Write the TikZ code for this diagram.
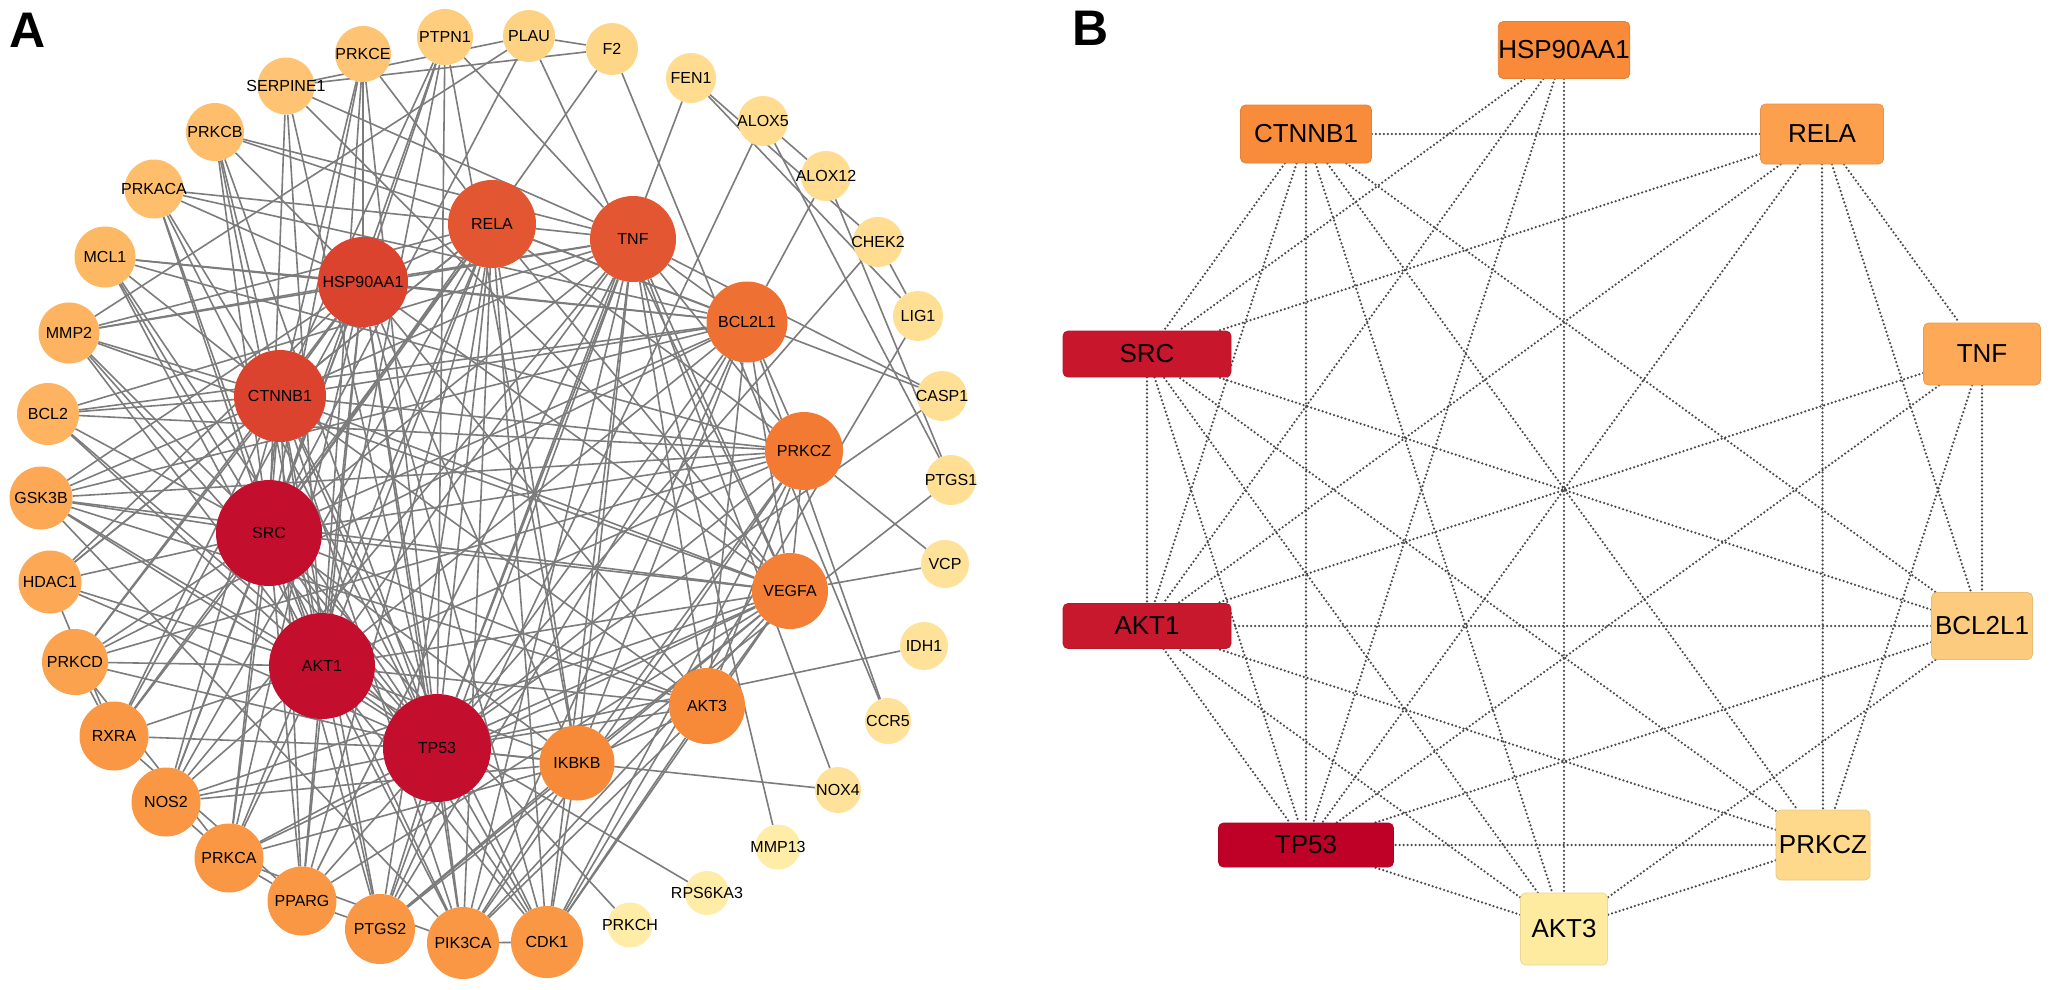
\documentclass[tikz,border=0pt]{standalone}
\usepackage{fontspec}
\setmainfont{Liberation Sans}
\pgfdeclarelayer{bg}
\pgfdeclarelayer{paper}
\pgfsetlayers{paper,bg,main}
% panel A colours
\definecolor{cHub}{HTML}{C30E2E}
\definecolor{cHC}{HTML}{DB432F}
\definecolor{cRT}{HTML}{E25631}
\definecolor{cBL}{HTML}{EE7133}
\definecolor{cPZ}{HTML}{F27A33}
\definecolor{cVG}{HTML}{F47F36}
\definecolor{cAK}{HTML}{F78A38}
\definecolor{cOa}{HTML}{F99744}
\definecolor{cOb}{HTML}{FBA24F}
\definecolor{cOc}{HTML}{FCA854}
\definecolor{cOd}{HTML}{FDB35F}
\definecolor{cOe}{HTML}{FDB864}
\definecolor{cOf}{HTML}{FEBE6B}
\definecolor{cOg}{HTML}{FEC473}
\definecolor{cYa}{HTML}{FECD7E}
\definecolor{cYb}{HTML}{FED283}
\definecolor{cYc}{HTML}{FED688}
\definecolor{cYd}{HTML}{FFDC8F}
\definecolor{cYe}{HTML}{FFDF94}
\definecolor{cYf}{HTML}{FFE29A}
\definecolor{cYg}{HTML}{FFECA6}
\definecolor{edgeA}{HTML}{7C7C7C}
% panel B colours
\definecolor{bcH}{HTML}{F98A39}
\definecolor{bcC}{HTML}{F98C3B}
\definecolor{bcR}{HTML}{FCA04E}
\definecolor{bcT}{HTML}{FDA957}
\definecolor{bcB}{HTML}{FDCB7D}
\definecolor{bcP}{HTML}{FED98C}
\definecolor{bcAc}{HTML}{FFEBA0}
\definecolor{bcS}{HTML}{C8172D}
\definecolor{bcA}{HTML}{C8182D}
\definecolor{bcTP}{HTML}{BF0027}
\definecolor{edgeB}{HTML}{4A4A4A}
\tikzset{
  gn/.style={circle, inner sep=0pt, draw=none},
  glab/.style={font=\fontsize{16}{18}\selectfont, text=black, inner sep=0pt},
  aedge/.style={draw=edgeA, line width=1.6pt},
  bbox/.style={rectangle, rounded corners=5pt, inner sep=0pt, line width=0.8pt,
               font=\fontsize{26}{30}\selectfont, text=black},
  bedge/.style={draw=edgeB, line width=2.5pt, line cap=round, dash pattern=on 0pt off 4pt},
  panlab/.style={font=\fontsize{50}{50}\selectfont\bfseries, inner sep=0pt, anchor=base west}
}
\newcommand{\gnode}[6]{% name, x, y, diameter, colour, label
  \node[gn, minimum size=#4pt, fill=#5, label={[glab]center:#6}] (#1) at (#2,#3) {};}
\begin{document}
\begin{tikzpicture}[x=1pt,y=-1pt]
\useasboundingbox (0,0) rectangle (2050,989);
\begin{pgfonlayer}{paper}
\fill[white] (0,0) rectangle (2050,989);
\end{pgfonlayer}

\node[panlab] (labA) at (9,47) {A};
\node[panlab] (labB) at (1072,45) {B};

% ---------------- Panel A nodes ----------------
% inner
\gnode{rela}{492}{224}{88}{cRT}{RELA}
\gnode{tnf}{633}{239}{86}{cRT}{TNF}
\gnode{hsp}{363}{282}{90}{cHC}{HSP90AA1}
\gnode{ct}{280}{396}{92}{cHC}{CTNNB1}
\gnode{src}{269}{533}{106}{cHub}{SRC}
\gnode{ak1}{322}{666}{106}{cHub}{AKT1}
\gnode{tp}{437}{748}{108}{cHub}{TP53}
\gnode{ikb}{577}{763}{75}{cAK}{IKBKB}
\gnode{ak3}{707}{706}{76}{cAK}{AKT3}
\gnode{veg}{790}{591}{76}{cVG}{VEGFA}
\gnode{pcz}{804}{451}{78}{cPZ}{PRKCZ}
\gnode{bcl}{747}{322}{81}{cBL}{BCL2L1}
% outer ring
\gnode{e}{363}{54}{56}{cOg}{PRKCE}
\gnode{p1}{445}{37}{56}{cYa}{PTPN1}
\gnode{pl}{529}{36}{52}{cYb}{PLAU}
\gnode{f2}{612}{49}{52}{cYc}{F2}
\gnode{fen}{691}{78}{50}{cYd}{FEN1}
\gnode{a5}{763}{121}{50}{cYd}{ALOX5}
\gnode{a12}{826}{176}{50}{cYd}{ALOX12}
\gnode{ch}{878}{242}{50}{cYd}{CHEK2}
\gnode{lig}{918}{316}{50}{cYe}{LIG1}
\gnode{cas}{942}{396}{50}{cYe}{CASP1}
\gnode{pgo}{951}{480}{50}{cYe}{PTGS1}
\gnode{vcp}{945}{564}{48}{cYf}{VCP}
\gnode{idh}{924}{646}{48}{cYf}{IDH1}
\gnode{ccr}{888}{721}{46}{cYf}{CCR5}
\gnode{nox}{838}{790}{46}{cYf}{NOX4}
\gnode{m13}{778}{847}{45}{cYg}{MMP13}
\gnode{rps}{707}{893}{44}{cYg}{RPS6KA3}
\gnode{pch}{630}{925}{45}{cYg}{PRKCH}
\gnode{cdk}{547}{942}{72}{cOa}{CDK1}
\gnode{pik}{463}{943}{72}{cOa}{PIK3CA}
\gnode{pgt}{380}{929}{70}{cOa}{PTGS2}
\gnode{ppa}{302}{901}{69}{cOa}{PPARG}
\gnode{pca}{229}{858}{69}{cOa}{PRKCA}
\gnode{nos}{166}{802}{69}{cOa}{NOS2}
\gnode{rx}{114}{736}{69}{cOa}{RXRA}
\gnode{pcd}{75}{662}{66}{cOb}{PRKCD}
\gnode{hd}{50}{582}{63}{cOc}{HDAC1}
\gnode{gsk}{41}{498}{63}{cOc}{GSK3B}
\gnode{bclt}{48}{414}{62}{cOd}{BCL2}
\gnode{mm2}{69}{333}{61}{cOd}{MMP2}
\gnode{mcl}{105}{257}{61}{cOe}{MCL1}
\gnode{pka}{154}{189}{59}{cOf}{PRKACA}
\gnode{pcb}{215}{132}{58}{cOf}{PRKCB}
\gnode{ser}{286}{86}{57}{cOg}{SERPINE1}

% ---------------- Panel A edges ----------------
\begin{pgfonlayer}{bg}
\foreach \a/\b in {
src/ct, src/hsp, src/ak1, src/tp, src/rela, src/tnf, src/bcl, src/pcz, src/veg, src/ak3, src/ikb,
ak1/ct, ak1/hsp, ak1/tp, ak1/rela, ak1/tnf, ak1/bcl, ak1/pcz, ak1/veg, ak1/ak3, ak1/ikb,
tp/ct, tp/hsp, tp/rela, tp/tnf, tp/bcl, tp/pcz, tp/veg, tp/ak3, tp/ikb,
hsp/ct, hsp/rela, hsp/tnf, hsp/bcl, hsp/ak3, hsp/ikb, hsp/veg,
ct/rela, ct/tnf, ct/bcl, ct/pcz, ct/veg, ct/ak3,
rela/tnf, rela/bcl, rela/pcz, rela/ikb, rela/veg,
tnf/bcl, tnf/pcz, tnf/ikb, tnf/veg, tnf/ak3,
bcl/pcz, bcl/veg, bcl/ak3, bcl/ikb,
pcz/veg, pcz/ak3, pcz/ikb, veg/ak3, veg/ikb, ak3/ikb}
  \draw[aedge] (\a) -- (\b);
\foreach \a/\b in {
e/hsp, e/src, e/ak1, e/tp, e/ct, e/rela,
p1/src, p1/ak1, p1/ct, p1/tnf, p1/ikb, p1/hsp, p1/tp,
pl/ser, pl/f2, pl/mm2, pl/src, pl/veg,
f2/ser, f2/src, f2/ccr,
fen/tp, fen/ch, fen/lig,
a5/a12, a5/pgo, a5/pgt, a12/pgo, a12/bcl,
ch/lig, ch/tp, lig/cdk,
cas/tnf, cas/rela, cas/tp, pgo/pgt,
vcp/veg, vcp/pcz, idh/tp, ccr/bcl, nox/tnf, nox/tp,
m13/tnf, rps/ak1, pch/src}
  \draw[aedge] (\a) -- (\b);
\foreach \a/\b in {
cdk/tp, cdk/ak1, cdk/src, cdk/ikb, cdk/ct, cdk/hsp, cdk/ak3, cdk/veg, cdk/tnf, cdk/rela, cdk/pik, cdk/pcz,
pik/tp, pik/ak1, pik/src, pik/ct, pik/ikb, pik/hsp, pik/ak3, pik/tnf, pik/pcz, pik/veg, pik/bcl, pik/rela, pik/pca,
pgt/tp, pgt/ak1, pgt/src, pgt/ikb, pgt/rela, pgt/tnf, pgt/ct, pgt/veg, pgt/ppa, pgt/bcl,
ppa/tp, ppa/ak1, ppa/src, ppa/ct, ppa/rela, ppa/tnf, ppa/hsp, ppa/pca, ppa/veg,
pca/src, pca/ak1, pca/tp, pca/ct, pca/hsp, pca/rela, pca/veg, pca/ikb,
nos/src, nos/ak1, nos/tp, nos/rela, nos/tnf, nos/hsp, nos/ct, nos/veg, nos/pca, nos/ikb}
  \draw[aedge] (\a) -- (\b);
\foreach \a/\b in {
rx/src, rx/ak1, rx/tp, rx/ct, rx/ppa, rx/hsp, rx/rela, rx/pcd,
pcd/src, pcd/ak1, pcd/tp, pcd/pca, pcd/hsp, pcd/ct, pcd/bcl, pcd/pcz,
hd/src, hd/ak1, hd/tp, hd/ct, hd/rela, hd/hsp, hd/rx,
gsk/src, gsk/ak1, gsk/tp, gsk/ct, gsk/hsp, gsk/ak3, gsk/bcl, gsk/pcz, gsk/pik, gsk/veg,
bclt/ct, bclt/src, bclt/ak1, bclt/tp, bclt/tnf, bclt/bcl, bclt/pcz,
mm2/hsp, mm2/src, mm2/ak1, mm2/tp, mm2/ct, mm2/tnf, mm2/veg, mm2/rela,
mcl/hsp, mcl/src, mcl/ak1, mcl/tp, mcl/ct, mcl/bcl, mcl/pcz,
pka/rela, pka/hsp, pka/bcl, pka/src, pka/ak1, pka/ct, pka/tp,
pcb/rela, pcb/tnf, pcb/src, pcb/ak1, pcb/ct, pcb/tp, pcb/hsp,
ser/tnf, ser/src, ser/ak1, ser/tp, ser/veg}
  \draw[aedge] (\a) -- (\b);
\end{pgfonlayer}

% ---------------- Panel B nodes ----------------
\node[bbox, minimum width=131pt, minimum height=57pt, fill=bcH, draw=bcH!92!black] (bH) at (1564,50) {HSP90AA1};
\node[bbox, minimum width=131pt, minimum height=58pt, fill=bcC, draw=bcC!92!black] (bC) at (1306,134) {CTNNB1};
\node[bbox, minimum width=123pt, minimum height=60pt, fill=bcR, draw=bcR!92!black] (bR) at (1822,134) {RELA};
\node[bbox, minimum width=168pt, minimum height=46pt, fill=bcS, draw=bcS!92!black] (bS) at (1147,354) {SRC};
\node[bbox, minimum width=117pt, minimum height=62pt, fill=bcT, draw=bcT!92!black] (bT) at (1982,354) {TNF};
\node[bbox, minimum width=168pt, minimum height=45pt, fill=bcA, draw=bcA!92!black] (bA1) at (1147,626) {AKT1};
\node[bbox, minimum width=101pt, minimum height=67pt, fill=bcB, draw=bcB!92!black] (bB) at (1982,626) {BCL2L1};
\node[bbox, minimum width=175pt, minimum height=44pt, fill=bcTP, draw=bcTP!92!black] (bTP) at (1306,845) {TP53};
\node[bbox, minimum width=94pt, minimum height=70pt, fill=bcP, draw=bcP!92!black] (bP) at (1823,845) {PRKCZ};
\node[bbox, minimum width=87pt, minimum height=72pt, fill=bcAc, draw=bcAc!92!black] (bA3) at (1564,929) {AKT3};

% ---------------- Panel B edges ----------------
\begin{pgfonlayer}{bg}
\foreach \a/\b in {
bH/bS, bH/bA1, bH/bTP, bH/bA3,
bC/bS, bC/bA1, bC/bTP, bC/bA3, bC/bP, bC/bB, bC/bR,
bR/bS, bR/bA1, bR/bTP, bR/bP, bR/bB, bR/bT,
bT/bA1, bT/bTP, bT/bP, bT/bB,
bB/bA1, bB/bS, bB/bTP, bB/bA3,
bP/bA1, bP/bTP, bP/bA3, bP/bS,
bA3/bS, bA3/bTP, bA3/bA1,
bS/bA1, bS/bTP, bA1/bTP}
  \draw[bedge] (\a) -- (\b);
\end{pgfonlayer}
\end{tikzpicture}
\end{document}
